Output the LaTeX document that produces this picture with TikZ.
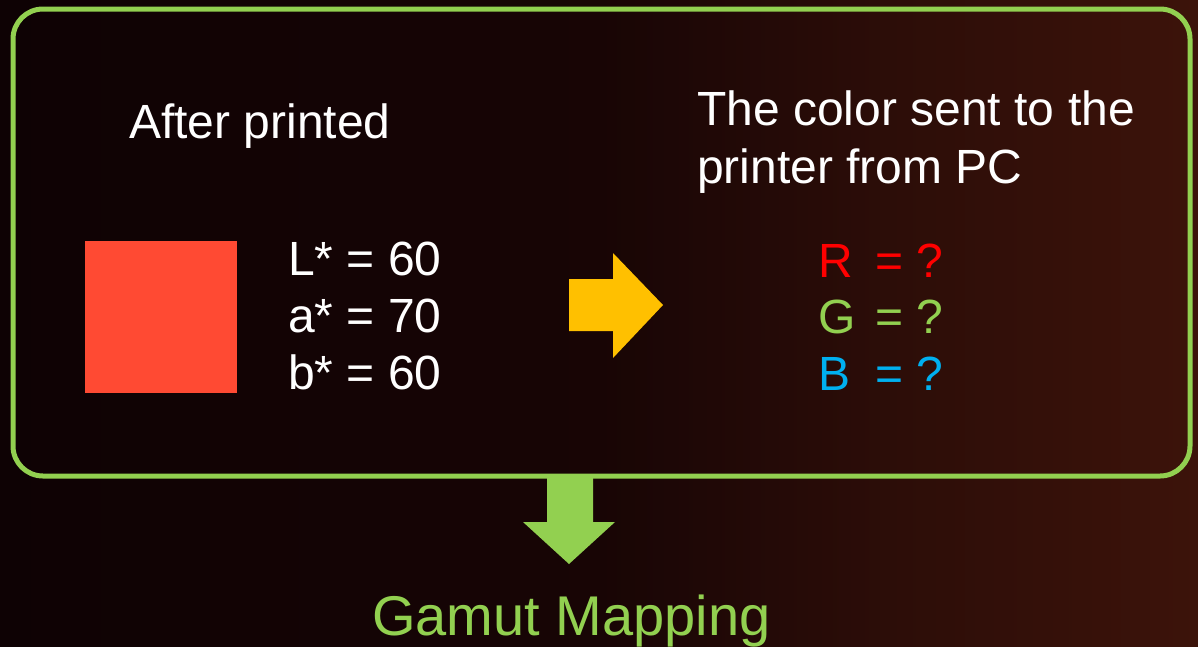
\documentclass[tikz,border=0pt]{standalone}
\usepackage{fontspec}
\setmainfont{Liberation Sans}
\definecolor{bgA}{RGB}{14,2,4}
\definecolor{bgB}{RGB}{24,5,5}
\definecolor{bgC}{RGB}{44,13,8}
\definecolor{bgD}{RGB}{60,19,10}
\definecolor{lgreen}{HTML}{92D050}
\definecolor{ayellow}{HTML}{FFC000}
\definecolor{sqred}{RGB}{255,74,51}
\definecolor{tred}{HTML}{FF0000}
\definecolor{tblue}{HTML}{00B0F0}
\pgfdeclarehorizontalshading{bgshade}{100bp}{color(0bp)=(bgA); color(25bp)=(bgA); color(50bp)=(bgB); color(62bp)=(bgC); color(75bp)=(bgD); color(100bp)=(bgD)}
\begin{document}
\begin{tikzpicture}[x=1pt,y=-1pt,
  txt/.style={anchor=base west, inner sep=0pt, text=white, font=\fontsize{48}{57}\selectfont},
  big/.style={anchor=base west, inner sep=0pt, font=\fontsize{56}{66}\selectfont},
  frame/.style={draw=lgreen, line width=5pt, rounded corners=30pt}]
\useasboundingbox (0,0) rectangle (1198,646);
\shade[shading=bgshade] (0,0) rectangle (1198,646);
% frame
\draw[frame] (13,9) rectangle (1190,476);
% left side
\node[txt] (after) at (129,138) {After printed};
\fill[sqred] (85,241) rectangle (237,393);
\node[txt] (L) at (288,275) {L* = 60};
\node[txt] (a) at (288,332) {a* = 70};
\node[txt] (b) at (288,389) {b* = 60};
% yellow arrow
\fill[ayellow] (569,279) -- (613,279) -- (613,253) -- (663,305) -- (613,358) -- (613,331) -- (569,331) -- cycle;
% right side
\node[txt] (sent1) at (697,125) {The color sent to the};
\node[txt] (sent2) at (697,183) {printer from PC};
\node[txt, text=tred] (R) at (818,277) {R};
\node[txt, text=tred] (Rq) at (875,277) {= ?};
\node[txt, text=lgreen] (G) at (818,333) {G};
\node[txt, text=lgreen] (Gq) at (875,333) {= ?};
\node[txt, text=tblue] (B) at (818,390) {B};
\node[txt, text=tblue] (Bq) at (875,390) {= ?};
% green down arrow
\fill[lgreen] (547,476) -- (593,476) -- (593,522) -- (615,522) -- (569,564) -- (523,522) -- (547,522) -- cycle;
\node[big, text=lgreen] (gm) at (372,635) {Gamut Mapping};
\end{tikzpicture}
\end{document}
